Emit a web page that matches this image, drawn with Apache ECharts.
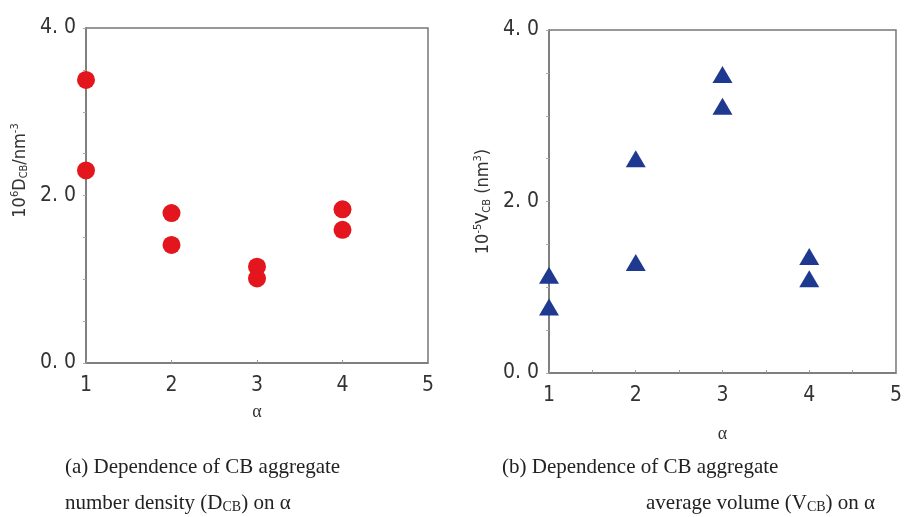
<!DOCTYPE html>
<html>
<head>
<meta charset="utf-8">
<script src="https://cdn.jsdelivr.net/npm/echarts@6/dist/echarts.min.js"></script>
<style>
  html, body { margin: 0; padding: 0; background: #fff; }
  #chart { width: 905px; height: 517px; }
</style>
</head>
<body>
<div id="chart"></div>
<script>
// α values and measured points (two samples per α)
const alphaD = [1, 1, 2, 2, 3, 3, 4, 4];
const densityD = [3.38, 2.30, 1.79, 1.41, 1.15, 1.01, 1.835, 1.59];
const alphaV = [1, 1, 2, 2, 3, 3, 4, 4];
const volumeV = [1.14, 0.77, 2.50, 1.29, 3.48, 3.11, 1.36, 1.10];
const xTicks = [1, 2, 3, 4, 5];
const yLabels = [0, 2, 4];

const tickFont = { color: '#333', fontSize: 21, fontFamily: 'DejaVu Sans Condensed, DejaVu Sans' };
const serif = 'Liberation Serif';

function pairs(xs, ys) {
  return xs.map((x, i) => [x, ys[i]]);
}

function fmtY(v) {
  return yLabels.indexOf(v) >= 0 ? v.toFixed(1).replace('.', '. ') : '';
}

function xAxisFor(idx, gap, minorStep) {
  return {
    gridIndex: idx, type: 'value', min: xTicks[0], max: xTicks[xTicks.length - 1], interval: minorStep,
    name: 'α', nameLocation: 'middle', nameGap: gap,
    nameTextStyle: { color: '#333', fontSize: 18, fontFamily: serif },
    axisLine: { show: true, lineStyle: { color: '#777', width: 1.5 } },
    axisTick: { show: true, inside: true, length: 3, lineStyle: { color: '#999' } },
    axisLabel: Object.assign({ margin: 12, formatter: v => xTicks.indexOf(v) >= 0 ? String(v) : '' }, tickFont),
    splitLine: { show: false }
  };
}

function yAxisFor(idx, name, gap, pad) {
  return {
    gridIndex: idx, type: 'value', min: 0, max: 4, interval: 0.5,
    name: name, nameLocation: 'middle', nameGap: gap, nameRotate: 90,
    nameTextStyle: {
      color: '#333', fontSize: 18, fontFamily: 'DejaVu Sans Condensed, DejaVu Sans', padding: pad,
      rich: {
        sup: { fontSize: 11, verticalAlign: 'top', padding: [0, 0, 9, 0], color: '#333' },
        sub: { fontSize: 11, verticalAlign: 'bottom', padding: [7, 0, 0, 0], color: '#333' }
      }
    },
    axisLine: { show: true, lineStyle: { color: '#777', width: 1.5 } },
    axisTick: { show: true, length: 3, lineStyle: { color: '#aaa' } },
    axisLabel: Object.assign({ margin: 10, formatter: fmtY }, tickFont),
    splitLine: { show: false }
  };
}

const capStyle = { fontFamily: serif, fontSize: 21, fontWeight: 'normal', color: '#222' };
const capRich = { s: { fontFamily: serif, fontSize: 14, verticalAlign: 'bottom', padding: [8, 0, 0, 0], color: '#222' } };

const chart = echarts.init(document.getElementById('chart'));
chart.setOption({
  backgroundColor: '#fff',
  animation: false,
  title: [
    { text: '(a) Dependence of CB aggregate', left: 60, top: 452, textStyle: capStyle },
    { text: 'number density (D{s|CB}) on α', left: 60, top: 487, textStyle: Object.assign({ rich: capRich }, capStyle) },
    { text: '(b) Dependence of CB aggregate', left: 497, top: 452, textStyle: capStyle },
    { text: 'average volume (V{s|CB}) on α', left: 641, top: 487, textStyle: Object.assign({ rich: capRich }, capStyle) }
  ],
  grid: [
    { left: 86, top: 28, width: 342, height: 335, show: true, borderColor: '#777', borderWidth: 1.5, backgroundColor: 'transparent' },
    { left: 549, top: 30, width: 353, height: 343, show: true, borderColor: '#777', borderWidth: 1.5, backgroundColor: 'transparent' }
  ],
  xAxis: [xAxisFor(0, 40, 1), xAxisFor(1, 52, 0.5)],
  yAxis: [
    yAxisFor(0, '10{sup|6}D{sub|CB}/nm{sup|-3}', 56, [0, 0, 0, 50]),
    yAxisFor(1, '10{sup|-5}V{sub|CB} (nm{sup|3})', 56, [0, 0, 0, 0])
  ],
  series: [
    {
      type: 'scatter', xAxisIndex: 0, yAxisIndex: 0,
      symbol: 'circle', symbolSize: 18,
      itemStyle: { color: '#e3151d', opacity: 1 },
      data: pairs(alphaD, densityD)
    },
    {
      type: 'scatter', xAxisIndex: 1, yAxisIndex: 1,
      symbol: 'triangle', symbolSize: [20, 17],
      itemStyle: { color: '#1f3990', opacity: 1 },
      data: pairs(alphaV, volumeV)
    }
  ]
});
</script>
</body>
</html>
